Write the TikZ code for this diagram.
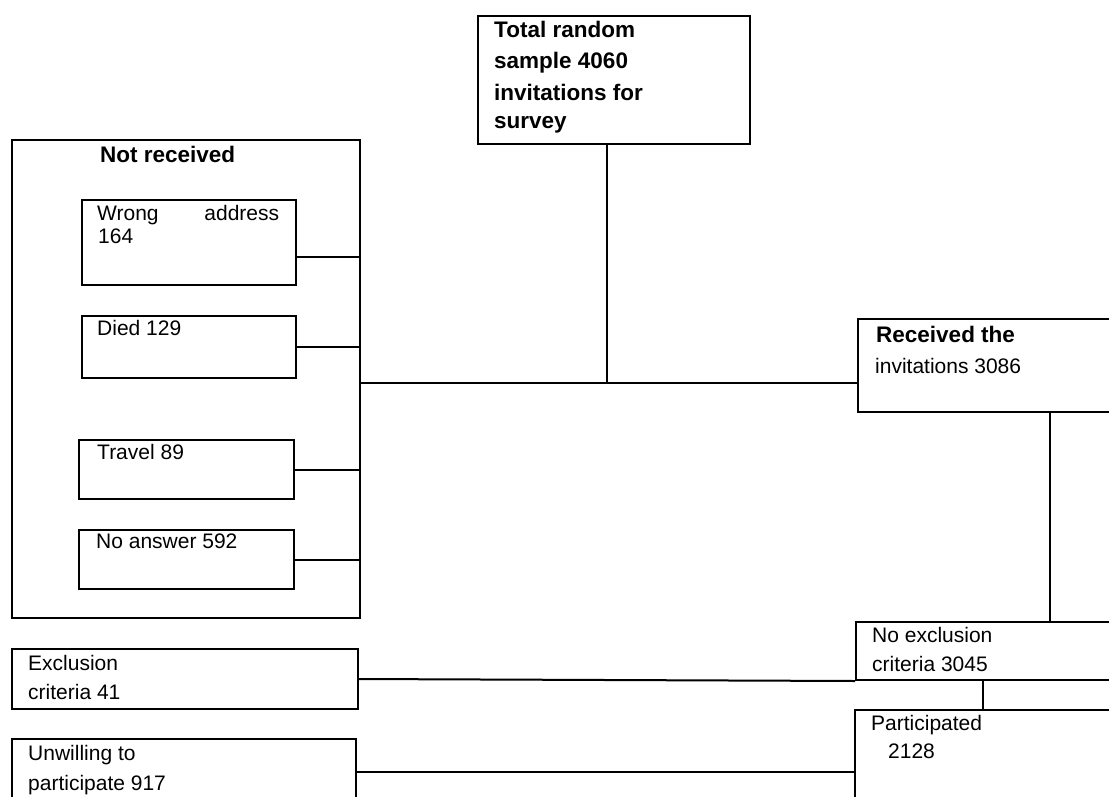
\documentclass[tikz,border=0pt]{standalone}
\usepackage{fontspec}
\setmainfont{Liberation Sans}
\begin{document}
\begin{tikzpicture}[x=1pt,y=-1pt,
  bx/.style={draw=black,line width=2pt,rectangle,inner sep=0pt,anchor=north west},
  ln/.style={line width=2pt},
  tx/.style={anchor=base west,inner sep=0pt,font=\fontsize{21}{25}\selectfont},
  tb/.style={anchor=base west,inner sep=0pt,font=\fontsize{22.5}{27}\selectfont\bfseries}]
\useasboundingbox (0,0) rectangle (1109,796);
\clip (0,0) rectangle (1109,796);
% boxes
\node[bx,minimum width=272pt,minimum height=128pt] (tot) at (477,15) {};
\node[bx,minimum width=348pt,minimum height=478pt] (notrec) at (11,139) {};
\node[bx,minimum width=214pt,minimum height=85pt] (wrong) at (81,199) {};
\node[bx,minimum width=214pt,minimum height=62pt] (died) at (81,315) {};
\node[bx,minimum width=215pt,minimum height=59pt] (travel) at (78,439) {};
\node[bx,minimum width=215pt,minimum height=59pt] (noans) at (78,529) {};
\node[bx,minimum width=300pt,minimum height=93pt] (rec) at (857,318) {};
\node[bx,minimum width=300pt,minimum height=58pt] (noex) at (855,621) {};
\node[bx,minimum width=300pt,minimum height=124pt] (part) at (854,709) {};
\node[bx,minimum width=346pt,minimum height=60pt] (excl) at (11,648) {};
\node[bx,minimum width=344pt,minimum height=66pt] (unw) at (11,738) {};
% texts
\node[tb] (t1) at (494,37) {Total random};
\node[tb] (t2) at (494,68) {sample 4060};
\node[tb] (t3) at (494,100) {invitations for};
\node[tb] (t4) at (494,128) {survey};
\node[tb] (n1) at (100,162) {Not received};
\node[tx] (w1) at (97,220) {\makebox[182pt][l]{Wrong\hfill address}};
\node[tx] (w2) at (98,243) {164};
\node[tx] (d1) at (97,335) {Died 129};
\node[tx] (tr1) at (97,459) {Travel 89};
\node[tx] (na1) at (96,548) {No answer 592};
\node[tb] (r1) at (876,342) {Received the};
\node[tx] (r2) at (875,373) {invitations 3086};
\node[tx] (ne1) at (872,642) {No exclusion};
\node[tx] (ne2) at (872,671) {criteria 3045};
\node[tx] (p1) at (871,730) {Participated};
\node[tx] (p2) at (888,758) {2128};
\node[tx] (e1) at (28,670) {Exclusion};
\node[tx] (e2) at (28,699) {criteria 41};
\node[tx] (u1) at (28,760) {Unwilling to};
\node[tx] (u2) at (28,790) {participate 917};
% connectors
\coordinate (mid) at (607,383);
\draw[ln] (mid |- tot.south) -- (mid);
\draw[ln] (mid -| notrec.east) -- (mid -| rec.west);
\draw[ln] ([yshift=29pt]wrong.south east) -- ([yshift=29pt]wrong.south east -| notrec.east);
\draw[ln] (died.east) -- (died.east -| notrec.east);
\draw[ln] (travel.east) -- (travel.east -| notrec.east);
\draw[ln] (noans.east) -- (noans.east -| notrec.east);
\draw[ln] ([xshift=193pt]rec.south west) -- ([xshift=195pt]noex.north west);
\draw[ln] (excl.east) -- (noex.south west);
\draw[ln] ([xshift=128pt]noex.south west) -- ([xshift=129pt]part.north west);
\draw[ln] (unw.east) -- (unw.east -| part.west);
\end{tikzpicture}
\end{document}
